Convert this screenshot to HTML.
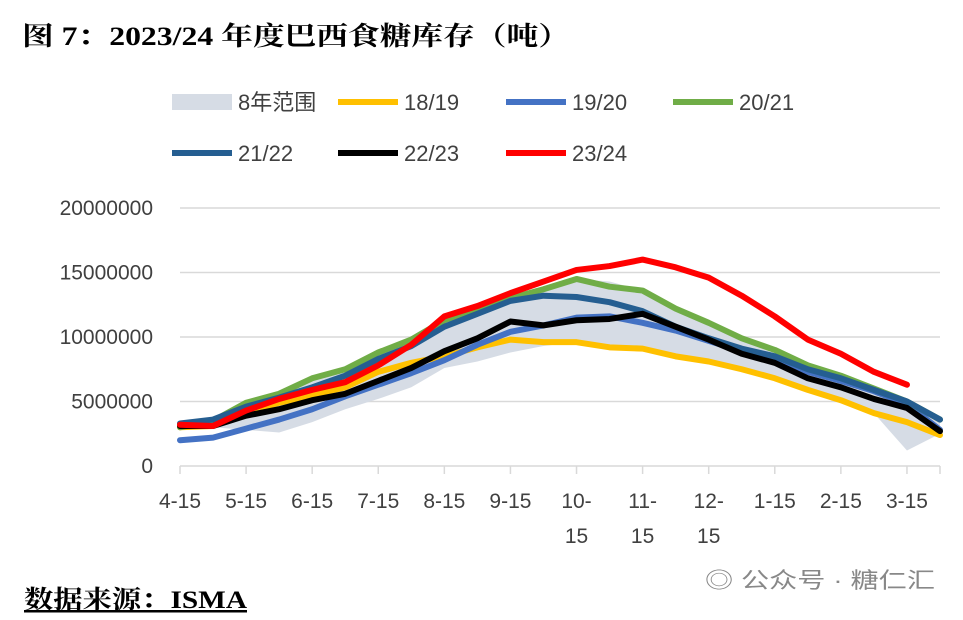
<!DOCTYPE html>
<html><head><meta charset="utf-8">
<style>
body{margin:0;width:963px;height:620px;background:#fff;overflow:hidden;font-family:"Liberation Sans","Noto Sans CJK SC",sans-serif;}
svg{position:absolute;left:0;top:0}
</style></head>
<body>
<svg id="chart" width="963" height="620">
<text x="22" y="45" font-size="26" font-weight="bold" textLength="548" lengthAdjust="spacingAndGlyphs" font-family="Liberation Serif, Noto Serif CJK SC, serif" fill="#000">图 7：2023/24 年度巴西食糖库存（吨）</text>
<text x="24" y="608" font-size="25" font-weight="bold" textLength="223" lengthAdjust="spacingAndGlyphs" font-family="Liberation Serif, Noto Serif CJK SC, serif" fill="#000" text-decoration="underline">数据来源：ISMA</text>
<text x="705" y="588" font-size="22" textLength="230" lengthAdjust="spacingAndGlyphs" fill="#888">◎ 公众号 · 糖仁汇</text>
<g id="legend"></g>
<g id="grid"></g><g id="range"></g><g id="lines"></g><g id="axes"></g>
</svg>
<script>
const categories=["4-15","5-1","5-15","6-1","6-15","7-1","7-15","8-1","8-15","9-1","9-15","10-1","10-15","11-1","11-15","12-1","12-15","1-1","1-15","2-1","2-15","3-1","3-15","4-1"];
const tickLabels=["4-15","5-15","6-15","7-15","8-15","9-15","10-15","11-15","12-15","1-15","2-15","3-15"];
const yTicks=[0,5000000,10000000,15000000,20000000];
const rangeMin=[2.9,3.0,2.8,2.6,3.4,4.4,5.2,6.1,7.6,8.1,8.8,9.3,9.6,9.2,9.1,8.5,8.1,7.5,6.8,5.9,5.1,4.1,1.2,2.5];
const rangeMax=[3.5,3.7,5.0,5.7,6.8,7.6,8.9,9.9,11.3,12.3,13.0,13.7,14.5,14.3,13.6,12.2,11.1,9.9,9.1,7.8,7.1,6.0,5.1,3.7];
const s1819=[3.0,3.1,4.2,4.9,5.5,6.1,7.3,8.0,8.5,9.2,9.8,9.6,9.6,9.2,9.1,8.5,8.1,7.5,6.8,5.9,5.1,4.1,3.4,2.4];
const s1920=[2.0,2.2,2.9,3.6,4.4,5.4,6.3,7.2,8.2,9.4,10.4,10.9,11.5,11.6,11.1,10.5,9.7,8.9,8.4,7.3,6.6,5.8,4.8,2.8];
const s2021=[3.0,3.5,4.9,5.6,6.8,7.5,8.8,9.8,11.3,12.2,13.0,13.7,14.5,13.9,13.6,12.2,11.1,9.9,9.0,7.8,7.0,6.0,5.0,3.6];
const s2122=[3.3,3.6,4.6,5.3,6.1,7.0,8.3,9.3,10.8,11.8,12.8,13.2,13.1,12.7,12.0,10.8,9.9,9.1,8.5,7.5,6.8,5.9,5.0,3.6];
const s2223=[3.1,3.1,3.9,4.4,5.1,5.6,6.6,7.6,8.9,9.9,11.2,10.9,11.3,11.4,11.8,10.8,9.8,8.7,8.0,6.8,6.1,5.2,4.5,2.7];
const s2324=[3.2,3.1,4.3,5.2,5.9,6.5,7.8,9.4,11.6,12.4,13.4,14.3,15.2,15.5,16.0,15.4,14.6,13.2,11.6,9.8,8.7,7.3,6.3];

const NS="http://www.w3.org/2000/svg";
const X0=180,X1=940,Y0=466,Y1=208;
const xs=i=>X0+i*(X1-X0)/(categories.length-1);
const ys=v=>Y0-(v*1e6)/20000000*(Y0-Y1);
const yv=v=>Y0-v/20000000*(Y0-Y1);
function mk(tag,attrs,parent){const e=document.createElementNS(NS,tag);for(const k in attrs)e.setAttribute(k,attrs[k]);parent.appendChild(e);return e;}
const grid=document.getElementById('grid'),axes=document.getElementById('axes');
yTicks.forEach(t=>{
 const l=mk('line',{x1:X0,x2:X1,y1:yv(t),y2:yv(t),stroke:'#d9d9d9','stroke-width':1.5},grid);
 
 
 const tx=mk('text',{x:153,y:yv(t)+7,'text-anchor':'end','font-size':21,fill:'#404040'},axes);
 tx.textContent=t;
 
 
});
tickLabels.forEach((t,k)=>{
 const i=k*2,x=xs(i);
 mk('line',{x1:x,x2:x,y1:Y0,y2:Y0+8,stroke:'#d9d9d9','stroke-width':1.5},grid);
 const parts=t.split('-');
 if(parts[0].length===2){
  const a=mk('text',{x:x,y:508,'text-anchor':'middle','font-size':21,fill:'#404040'},axes);a.textContent=parts[0]+'-';
  
  
  const b=mk('text',{x:x,y:543,'text-anchor':'middle','font-size':21,fill:'#404040'},axes);b.textContent=parts[1];
 }else{
  const a=mk('text',{x:x,y:508,'text-anchor':'middle','font-size':21,fill:'#404040'},axes);a.textContent=t;
  
  
 }
});
mk('line',{x1:X1,x2:X1,y1:Y0,y2:Y0+8,stroke:'#d9d9d9','stroke-width':1.5},grid);
let d='M'+rangeMax.map((v,i)=>xs(i)+','+ys(v)).join('L');
for(let i=rangeMin.length-1;i>=0;i--)d+='L'+xs(i)+','+ys(rangeMin[i]);
const band=mk('path',{d:d+'Z',fill:'#d6dce5'},document.getElementById('range'));


const series=[[s1819,'#ffc000','series-18-19'],[s1920,'#4472c4','series-19-20'],[s2021,'#70ad47','series-20-21'],[s2122,'#255e91','series-21-22'],[s2223,'#000000','series-22-23'],[s2324,'#ff0000','series-23-24']];
const lines=document.getElementById('lines');
series.forEach(s=>{
 const p=mk('polyline',{points:s[0].map((v,i)=>xs(i)+','+ys(v)).join(' '),fill:'none',stroke:s[1],'stroke-width':6,'stroke-linejoin':'round','stroke-linecap':'round'},lines);
 
 
});
const lg=document.getElementById('legend');
const items=[['8年范围',null,172,102],['18/19','#ffc000',338,102],['19/20','#4472c4',506,102],['20/21','#70ad47',673,102],['21/22','#255e91',172,153],['22/23','#000000',338,153],['23/24','#ff0000',506,153]];
items.forEach(it=>{
 if(it[1]===null) mk('rect',{x:it[2],y:it[3]-8,width:60,height:16,fill:'#d6dce5'},lg);
 else mk('line',{x1:it[2],x2:it[2]+60,y1:it[3],y2:it[3],stroke:it[1],'stroke-width':6},lg);
 const t=mk('text',{x:it[2]+66,y:it[3]+8,'font-size':22,fill:'#404040'},lg);
 t.textContent=it[0];
 
 
});
</script>
</body></html>
